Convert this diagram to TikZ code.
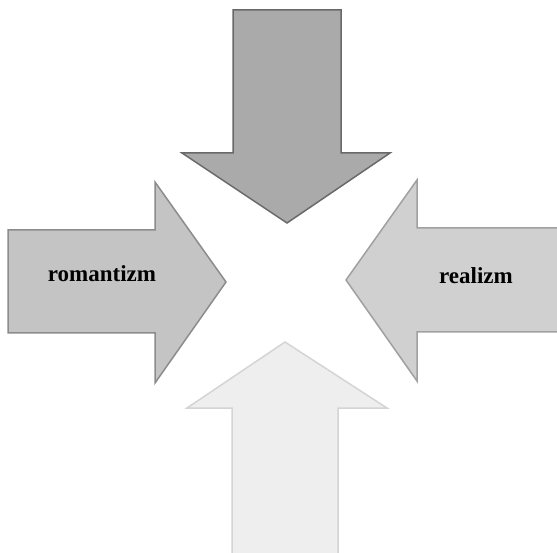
\documentclass[tikz,border=0pt]{standalone}
\usepackage{fontspec}
\setmainfont{Liberation Serif}
\usepackage{tikz}
\usetikzlibrary{positioning}
\definecolor{topgray}{RGB}{170,170,170}
\definecolor{topedge}{RGB}{105,105,105}
\definecolor{leftgray}{RGB}{196,196,196}
\definecolor{leftedge}{RGB}{140,140,140}
\definecolor{rightgray}{RGB}{208,208,208}
\definecolor{rightedge}{RGB}{160,160,160}
\definecolor{botgray}{RGB}{238,238,238}
\definecolor{botedge}{RGB}{212,212,212}

\begin{document}
\begin{tikzpicture}[x=1pt, y=-1pt,
    bigarrow/.style={line width=1.5pt, line join=miter},
    arrowtext/.style={font=\bfseries\fontsize{23}{26}\selectfont, inner sep=0pt}]
        \useasboundingbox (0,0) rectangle (557,553);
        % top arrow
        \draw[bigarrow, fill=topgray, draw=topedge] (233,10) -- (341,10) -- (341,153) -- (390,153) -- (287,223) -- (182,153) -- (233,153) -- cycle;
        % left arrow
        \draw[bigarrow, fill=leftgray, draw=leftedge] (8,230) -- (155,230) -- (155,182) -- (226,282) -- (155,383) -- (155,333) -- (8,333) -- cycle;
        % right arrow
        \draw[bigarrow, fill=rightgray, draw=rightedge] (562,228) -- (417,228) -- (417,180) -- (346,280) -- (417,381) -- (417,332) -- (562,332) -- cycle;
        % bottom arrow
        \draw[bigarrow, fill=botgray, draw=botedge] (232,558) -- (232,408) -- (187,408) -- (285,342) -- (387,408) -- (338,408) -- (338,558) -- cycle;
        \node[arrowtext] (romantizm) at (102,274) {romantizm};
        \node[arrowtext] (realizm) at (476,276) {realizm};
    \end{tikzpicture}
\end{document}
